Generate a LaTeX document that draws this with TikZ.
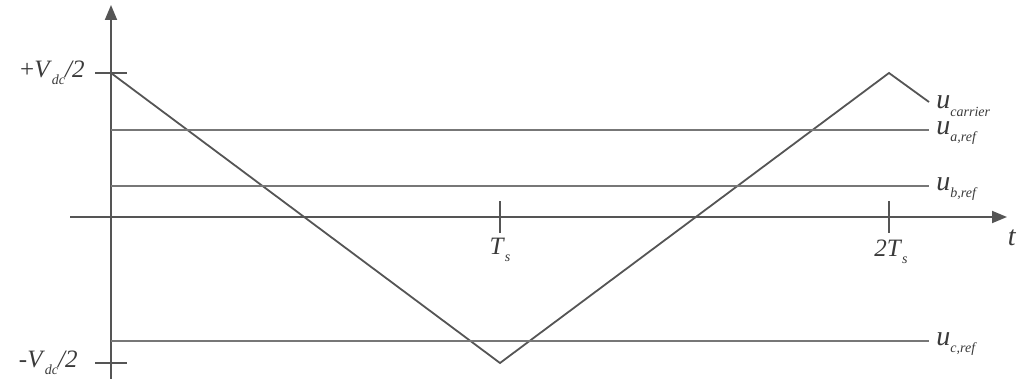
\documentclass[tikz,border=0pt]{standalone}
\usepackage{fontspec}
\setmainfont{Liberation Serif}
\usetikzlibrary{arrows.meta}
\definecolor{axisgray}{HTML}{555555}
\definecolor{linegray}{HTML}{777777}
\definecolor{textgray}{HTML}{3A3A3A}
\newcommand{\sublab}[2]{\textit{#1}\raisebox{-0.6ex}{\scriptsize\itshape #2}}
\tikzset{
  axis/.style={axisgray,line width=0.9pt},
  refline/.style={linegray,line width=0.9pt},
  lab/.style={textgray,inner sep=1pt,font=\fontsize{12.5}{15}\selectfont},
  sig/.style={lab,anchor=west,font=\fontsize{14}{16}\selectfont}
}
\begin{document}
\begin{tikzpicture}[x=0.5pt,y=-0.5pt]
  \useasboundingbox (0,0) rectangle (1019,379);
  % axes
  \coordinate (O) at (111,217);
  \coordinate (xa) at (70,217);
  \coordinate (xb) at (1007,217);
  \coordinate (ya) at (111,379);
  \coordinate (yb) at (111,5);
  \draw[axis,-{Triangle[length=7.5pt,width=6pt]}] (xa) -- (xb);
  \draw[axis,-{Triangle[length=7.5pt,width=6pt]}] (ya) -- (yb);
  % ticks
  \coordinate (vp) at (111,73);
  \coordinate (vm) at (111,363);
  \coordinate (ts) at (500,217);
  \coordinate (tt) at (889,217);
  \draw[axis] ([xshift=-8]vp) -- ([xshift=8]vp);
  \draw[axis] ([xshift=-8]vm) -- ([xshift=8]vm);
  \draw[axis] ([yshift=-8]ts) -- ([yshift=8]ts);
  \draw[axis] ([yshift=-8]tt) -- ([yshift=8]tt);
  % carrier
  \coordinate (c1) at (500,363);
  \coordinate (c2) at (889,73);
  \coordinate (c3) at (929,102);
  \draw[axis] (vp) -- (c1) -- (c2) -- (c3);
  % references
  \draw[refline] (111,130) coordinate (ra) -- (929,130) coordinate (rae);
  \draw[refline] (111,186) coordinate (rb) -- (929,186) coordinate (rbe);
  \draw[refline] (111,341) coordinate (rc) -- (929,341) coordinate (rce);
  % labels
  \node[lab,anchor=east] (lvp) at (87,73) {+\sublab{V}{dc}\textit{/2}};
  \node[lab,anchor=east] (lvm) at (80,363) {-\sublab{V}{dc}\textit{/2}};
  \node[lab] (lts) at (500,250) {\sublab{T}{s}};
  \node[lab] (ltt) at (891,252) {\textit{2}\sublab{T}{s}};
  \node[lab,font=\fontsize{14}{16}\selectfont] (lt) at (1012,238) {\textit{t}};
  \node[sig] (lcar) at (934,106) {\sublab{u}{carrier}};
  \node[sig] (lua) at (934,133) {\sublab{u}{a,ref}};
  \node[sig] (lub) at (934,189) {\sublab{u}{b,ref}};
  \node[sig] (luc) at (934,344) {\sublab{u}{c,ref}};
\end{tikzpicture}
\end{document}
